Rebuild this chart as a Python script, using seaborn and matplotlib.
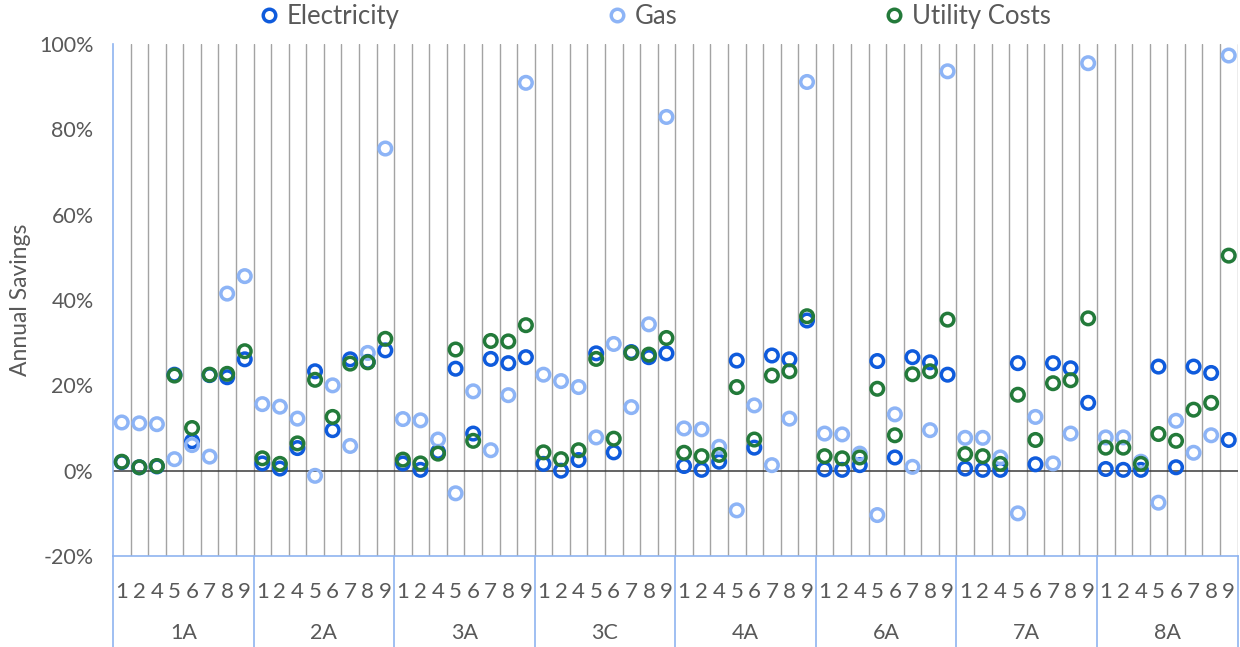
# =========================================
# ANNUAL SAVINGS BY CLIMATE ZONE
# =========================================

import numpy as np
import pandas as pd

import matplotlib
matplotlib.use("Agg")
import matplotlib.pyplot as plt
import matplotlib.transforms as mtransforms
from matplotlib.lines import Line2D
import seaborn as sns


# =========================================
# DATA (percent)
# =========================================

zones = ["1A", "2A", "3A", "3C", "4A", "6A", "7A", "8A"]
cases = ["1", "2", "4", "5", "6", "7", "8", "9"]

electricity = [
    2.0, 0.8, 1.0, 22.5, 6.9, 22.4, 21.9, 26.1,
    1.7, 0.5, 5.3, 23.3, 9.5, 26.1, 25.5, 28.2,
    1.7, 0.2, 4.4, 23.9, 8.7, 26.2, 25.2, 26.6,
    1.6, 0.0, 2.5, 27.5, 4.3, 27.8, 26.6, 27.5,
    1.1, 0.2, 2.1, 25.8, 5.4, 27.0, 26.1, 35.2,
    0.3, 0.2, 1.3, 25.7, 3.1, 26.6, 25.4, 22.5,
    0.5, 0.2, 0.2, 25.2, 1.5, 25.2, 24.0, 15.9,
    0.4, 0.2, 0.2, 24.4, 0.8, 24.4, 22.9, 7.2,
]

gas = [
    11.3, 11.1, 10.9, 2.7, 6.0, 3.3, 41.5, 45.6,
    15.6, 15.0, 12.2, -1.2, 20.0, 5.8, 27.6, 75.5,
    12.1, 11.8, 7.3, -5.3, 18.6, 4.8, 17.7, 90.9,
    22.5, 21.0, 19.6, 7.8, 29.7, 14.9, 34.3, 82.9,
    9.9, 9.7, 5.6, -9.3, 15.3, 1.3, 12.2, 91.1,
    8.7, 8.5, 4.0, -10.4, 13.2, 0.9, 9.5, 93.6,
    7.7, 7.7, 3.1, -10.0, 12.6, 1.7, 8.7, 95.5,
    7.8, 7.8, 2.1, -7.5, 11.7, 4.2, 8.3, 97.3,
]

utility_costs = [
    2.1, 0.8, 1.1, 22.3, 10.0, 22.5, 22.7, 28.0,
    2.9, 1.6, 6.4, 21.3, 12.6, 25.1, 25.4, 30.9,
    2.6, 1.7, 4.0, 28.4, 7.0, 30.4, 30.3, 34.1,
    4.3, 2.7, 4.8, 26.2, 7.5, 27.6, 27.2, 31.1,
    4.2, 3.4, 3.7, 19.6, 7.3, 22.3, 23.3, 36.2,
    3.4, 2.9, 3.1, 19.2, 8.3, 22.6, 23.3, 35.4,
    3.9, 3.4, 1.6, 17.8, 7.2, 20.5, 21.2, 35.7,
    5.4, 5.4, 1.6, 8.6, 7.0, 14.3, 15.9, 50.4,
]

series_names = ["Electricity", "Gas", "Utility Costs"]
colors = ["#0f5bdc", "#8db4f6", "#237a3a"]


# =========================================
# LONG TABLE
# =========================================

n_cat = len(zones) * len(cases)
pos = np.arange(n_cat)

df = pd.concat([
    pd.DataFrame({"pos": pos, "value": vals, "series": name})
    for name, vals in zip(series_names, [electricity, gas, utility_costs])
], ignore_index=True)


# =========================================
# STYLE
# =========================================

sns.set_theme(style="white")
plt.rcParams["font.family"] = ["Lato", "DejaVu Sans"]

text_color = "#595959"
axis_blue = "#8fb4f0"


# =========================================
# PLOT
# =========================================

fig = plt.figure(figsize=(12.4, 6.47), dpi=100)
ax = fig.add_axes([0.0911, 0.1406, 0.9069, 0.7914])

# category boundaries as vertical grid
for b in np.arange(0.5, n_cat, 1):
    ax.axvline(b, color="#a3a3a3", lw=1.0, zorder=1)

ax.axhline(0, color="#3a3a3a", lw=1.1, zorder=2)

sns.scatterplot(
    data=df,
    x="pos",
    y="value",
    hue="series",
    palette=dict(zip(series_names, colors)),
    s=82,
    linewidth=2.5,
    legend=False,
    ax=ax,
    zorder=3
)

# hollow markers
for coll in ax.collections:
    fc = coll.get_facecolors()
    coll.set_edgecolors(fc)
    coll.set_facecolors("none")
    coll.set_linewidth(2.5)

ax.set_xlim(-0.5, n_cat - 0.5)
ax.set_ylim(-20, 100)

ax.set_yticks(np.arange(-20, 101, 20))
ax.set_yticklabels([f"{v:.0f}%" for v in np.arange(-20, 101, 20)])
ax.tick_params(axis="y", direction="in", length=7, color=axis_blue,
               labelsize=15.5, labelcolor=text_color, pad=14)

ax.set_xticks(pos)
ax.set_xticklabels(cases * len(zones))
ax.tick_params(axis="x", length=0, labelsize=16, labelcolor=text_color, pad=19)

ax.set_xlabel("")
ax.set_ylabel("Annual Savings", fontsize=16.5, color=text_color, labelpad=6)

for side in ["top", "right"]:
    ax.spines[side].set_visible(False)
for side in ["left", "bottom"]:
    ax.spines[side].set_color(axis_blue)
    ax.spines[side].set_linewidth(1.2)

# group labels and separators below the axis
trans = mtransforms.blended_transform_factory(ax.transData, ax.transAxes)
for i, zone in enumerate(zones):
    start = i * len(cases) - 0.5
    ax.plot([start, start], [0, -0.18], transform=trans, color=axis_blue,
            lw=1.2, clip_on=False)
    ax.text(start + len(cases) / 2, -0.15, zone, transform=trans,
            ha="center", va="center", fontsize=15.5, color=text_color)
ax.plot([n_cat - 0.5, n_cat - 0.5], [0, -0.18], transform=trans,
        color=axis_blue, lw=1.2, clip_on=False)

# legend
handles = [
    Line2D([], [], marker="o", linestyle="", markersize=9,
           markerfacecolor="none", markeredgecolor=c, markeredgewidth=2.5)
    for c in colors
]
fig.legend(
    handles,
    series_names,
    loc="center",
    bbox_to_anchor=(0.527, 0.975),
    ncol=3,
    frameon=False,
    fontsize=18.5,
    handletextpad=0.2,
    columnspacing=7.95,
    handlelength=1.0,
    labelcolor=text_color
)

fig.savefig("out.png", dpi=100)
